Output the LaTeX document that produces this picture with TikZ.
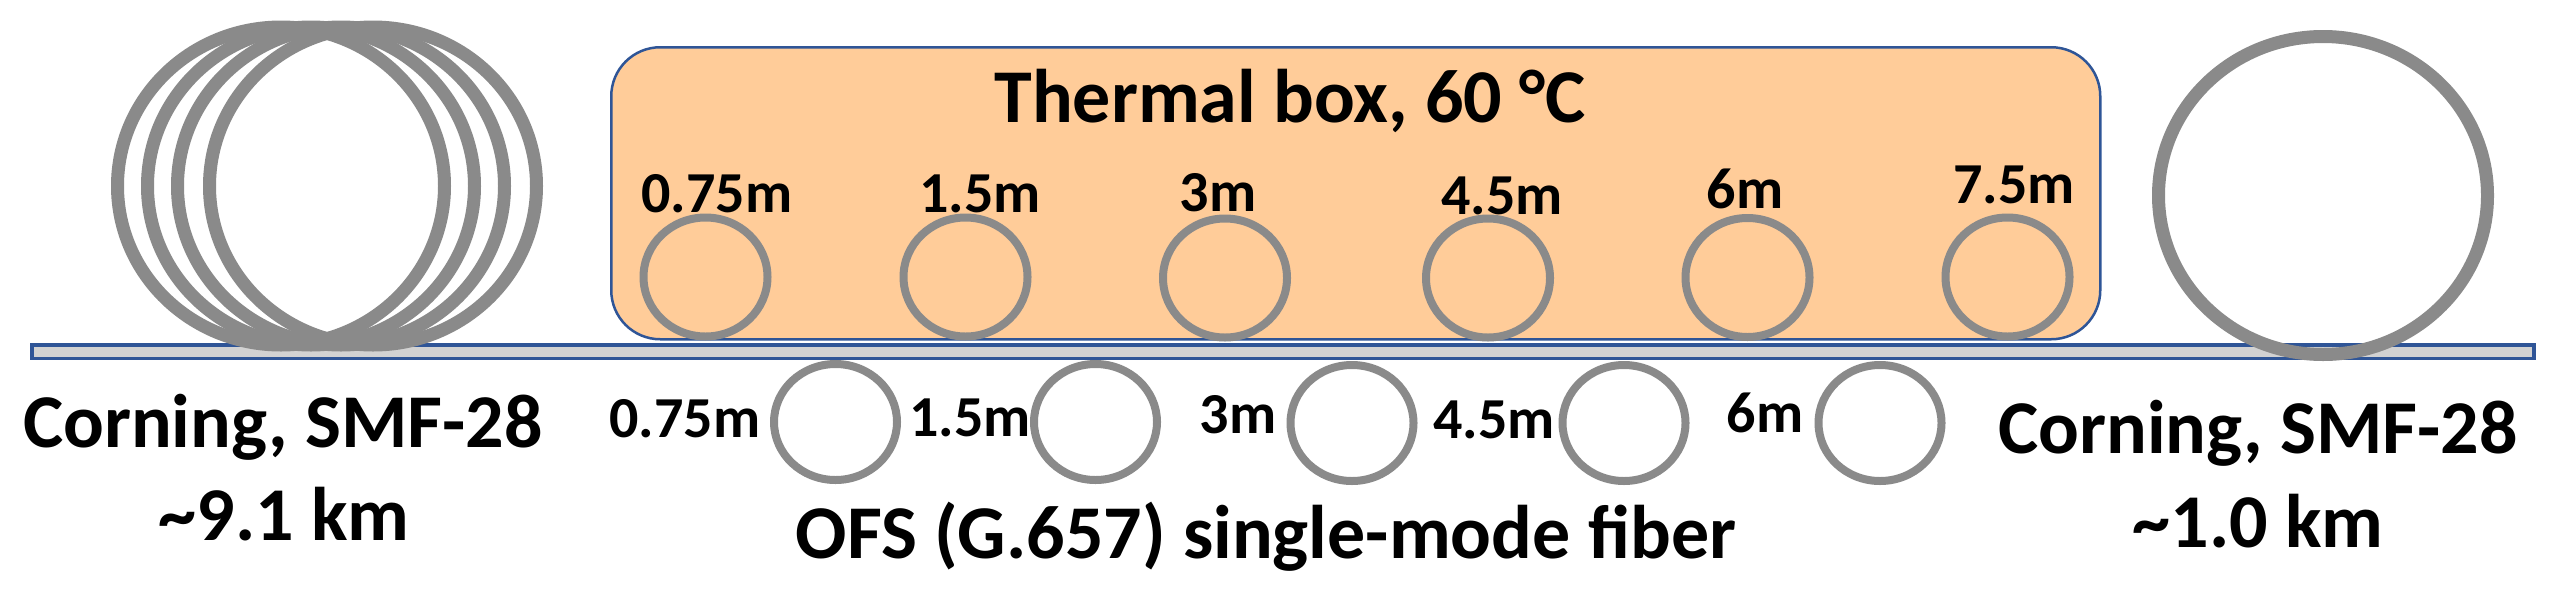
\documentclass[tikz,border=0pt]{standalone}
\usepackage{fontspec}
\setmainfont{Carlito}
\usetikzlibrary{shapes.geometric}
\definecolor{boxfill}{RGB}{255,204,153}
\definecolor{boxline}{RGB}{47,85,151}
\definecolor{ring}{RGB}{138,138,138}
\definecolor{stripfill}{RGB}{210,210,210}
\tikzset{
  big/.style={font=\fontsize{76}{91}\selectfont\bfseries, anchor=base, inner sep=0pt},
  small/.style={font=\fontsize{58}{70}\selectfont\bfseries, anchor=base, inner sep=0pt},
  ringbig/.style={ellipse, draw=ring, line width=13pt, inner sep=0pt, outer sep=0pt, minimum width=327pt, minimum height=318pt},
  ringsmall/.style={ellipse, draw=ring, line width=8pt, inner sep=0pt, outer sep=0pt, minimum width=124pt, minimum height=119pt},
}
\begin{document}
\begin{tikzpicture}[x=1pt,y=-1pt]
\fill[white] (0,0) rectangle (2562,590);
\useasboundingbox (0,0) rectangle (2562,590);

% thermal box
\node[draw=boxline, fill=boxfill, line width=2.5pt, rounded corners=49pt,
      minimum width=1489pt, minimum height=292pt, inner sep=0pt, outer sep=0pt,
      anchor=north west] (tbox) at (611.25,47.25) {};
\node[big] (title) at (1290,122) {Thermal box, 60 °C};

% rings inside the box
\node[ringsmall] (i1) at (705.5,277) {};
\node[ringsmall] (i2) at (965.5,277) {};
\node[ringsmall] (i3) at (1225,278) {};
\node[ringsmall] (i4) at (1488,278) {};
\node[ringsmall] (i5) at (1747.5,277.5) {};
\node[ringsmall] (i6) at (2007.5,277) {};
\node[small] (li1) at (717,212) {0.75m};
\node[small] (li2) at (980,212) {1.5m};
\node[small] (li3) at (1218,211) {3m};
\node[small] (li4) at (1502,214) {4.5m};
\node[small] (li5) at (1745,208) {6m};
\node[small] (li6) at (2014,203) {7.5m};

% fiber strip
\node[draw=boxline, fill=stripfill, line width=3.5pt, minimum width=2502pt,
      minimum height=13.5pt, inner sep=0pt, outer sep=0pt, anchor=north west]
      (strip) at (31.75,344.75) {};

% rings below the strip
\node[ringsmall, minimum width=123pt, minimum height=116pt] (o1) at (835.5,422) {};
\node[ringsmall, minimum width=123pt, minimum height=116pt] (o2) at (1095.5,422) {};
\node[ringsmall, minimum width=123pt, minimum height=116pt] (o3) at (1352,423) {};
\node[ringsmall, minimum width=123pt, minimum height=116pt] (o4) at (1624,423) {};
\node[ringsmall, minimum width=123pt, minimum height=116pt] (o5) at (1880,423) {};
\node[small] (lo1) at (685,437) {0.75m};
\node[small] (lo2) at (970,436) {1.5m};
\node[small] (lo3) at (1238,433) {3m};
\node[small] (lo4) at (1494,438) {4.5m};
\node[small] (lo5) at (1765,432) {6m};
\node[big] (ofs) at (1266,558) {OFS (G.657) single-mode fiber};

% left spool
\node[ringbig] (c1) at (281,186) {};
\node[ringbig] (c2) at (311,186) {};
\node[ringbig] (c3) at (341,186) {};
\node[ringbig] (c4) at (373,186) {};
\node[big] (left1) at (283,447) {Corning, SMF-28};
\node[big] (left2) at (284,540) {\textasciitilde 9.1 km};

% right spool
\node[ringbig, minimum width=329pt] (r1) at (2323,195.5) {};
\node[big] (right1) at (2258,453) {Corning, SMF-28};
\node[big] (right2) at (2258,547) {\textasciitilde 1.0 km};
\end{tikzpicture}
\end{document}
